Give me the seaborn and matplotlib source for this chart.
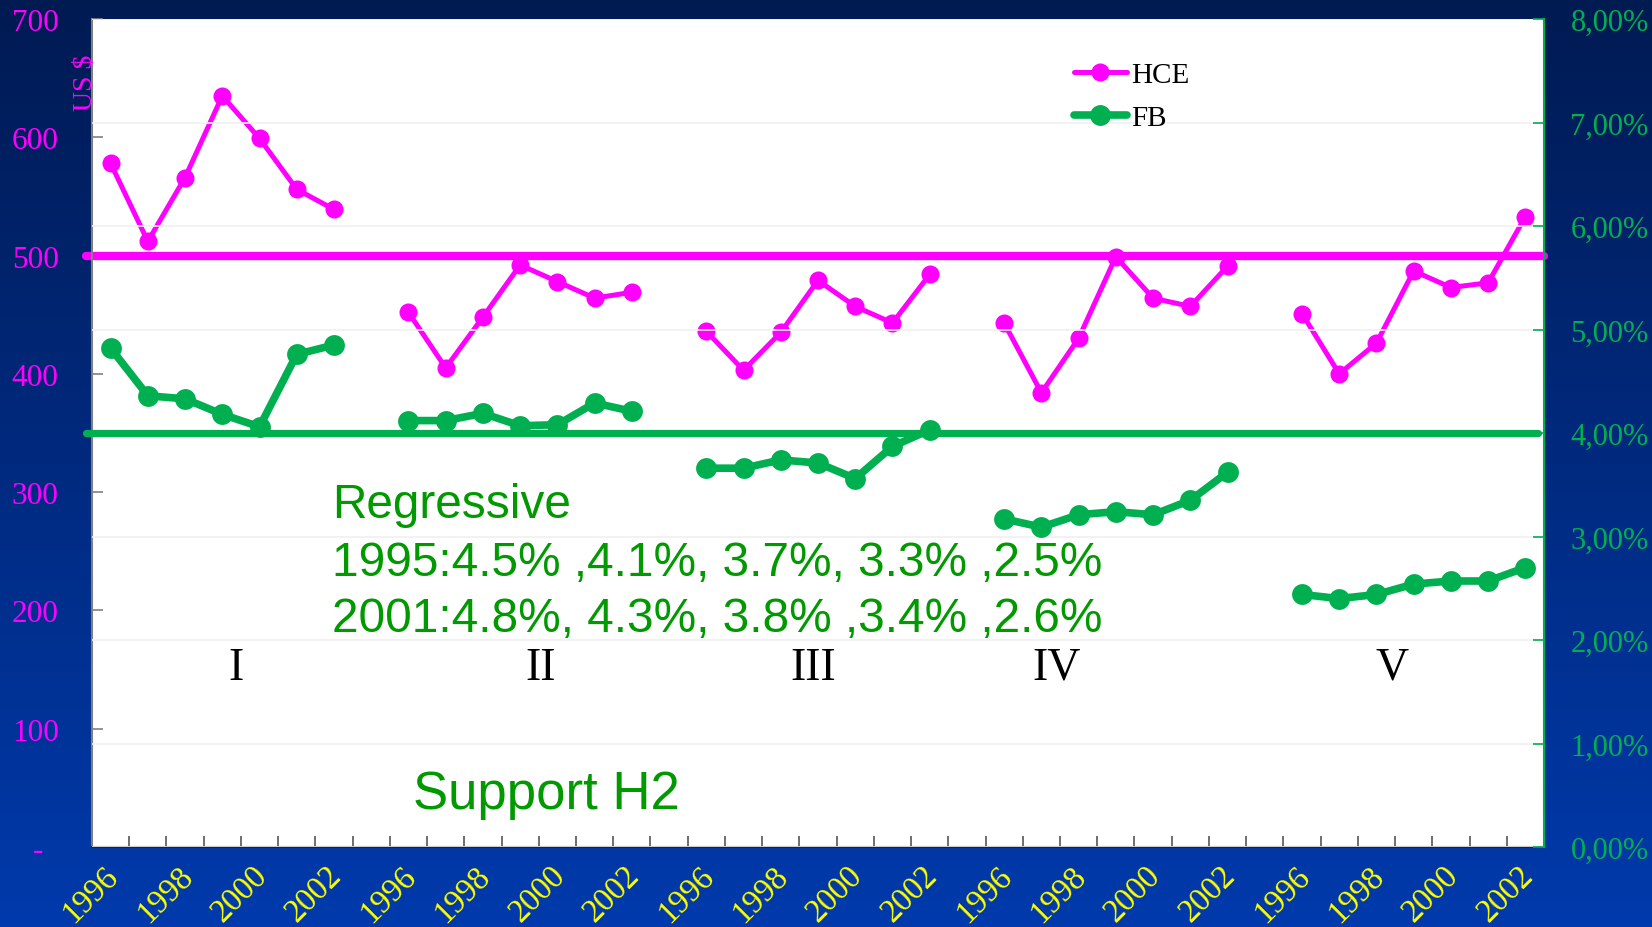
import numpy as np
import pandas as pd
import seaborn as sns
import matplotlib.pyplot as plt
import matplotlib.transforms as mtrans
from matplotlib.lines import Line2D
from matplotlib.ticker import FuncFormatter

# HCE in US$, FB in % - five groups of 1996..2002
hce_I = [578, 512, 566, 635, 599, 556, 539]
hce_II = [452, 405, 448, 492, 478, 464, 469]
hce_III = [436, 403, 435, 479, 457, 443, 484]
hce_IV = [443, 384, 430, 499, 464, 457, 491]
hce_V = [451, 400, 426, 487, 473, 477, 533]
fb_I = [4.82, 4.36, 4.33, 4.18, 4.06, 4.76, 4.85]
fb_II = [4.12, 4.12, 4.19, 4.07, 4.08, 4.29, 4.21]
fb_III = [3.66, 3.66, 3.74, 3.71, 3.56, 3.87, 4.03]
fb_IV = [3.17, 3.09, 3.21, 3.24, 3.21, 3.35, 3.62]
fb_V = [2.44, 2.40, 2.44, 2.54, 2.57, 2.57, 2.70]
groups = ['I', 'II', 'III', 'IV', 'V']
years = ['1996', '1998', '2000', '2002']
hce_ref = 500
fb_ref = 4.0

PINK = '#FF00FF'
GREEN = '#00B050'
TEXT_GREEN = '#009900'

sns.set_theme(style='white')
plt.rcParams['font.family'] = ['Liberation Serif', 'DejaVu Serif']
SANS = ['Liberation Sans', 'DejaVu Sans']

W, H = 1652, 928
fig = plt.figure(figsize=(W / 100, H / 100), dpi=100)


def fx(px):
    return px / W


def fy(py):
    return 1 - py / H


# blue gradient background
bg = fig.add_axes([0, 0, 1, 1], zorder=-10)
top = np.array([0x00, 0x1A, 0x52]) / 255
bottom = np.array([0x00, 0x3A, 0xAC]) / 255
t = np.linspace(0, 1, 256)[:, None, None]
bg.imshow(top + t * (bottom - top), aspect='auto', extent=[0, 1, 0, 1], origin='upper')
bg.axis('off')

rows = []
hce_all = [hce_I, hce_II, hce_III, hce_IV, hce_V]
fb_all = [fb_I, fb_II, fb_III, fb_IV, fb_V]
for g, (h, f) in enumerate(zip(hce_all, fb_all)):
    for j in range(7):
        rows.append(dict(pos=g * 8 + j, group=groups[g], HCE=h[j], FB=f[j]))
df = pd.DataFrame(rows)

ax = fig.add_axes([fx(92), fy(848), fx(1544) - fx(92), fy(20) - fy(848)])
ax.set_facecolor('white')
sns.lineplot(data=df, x='pos', y='HCE', units='group', estimator=None,
             color=PINK, lw=3.6, marker='o', markersize=13, markeredgewidth=0,
             ax=ax, legend=False, zorder=3)
ax.axhline(hce_ref, xmin=-0.004, xmax=1, color=PINK, lw=6, clip_on=False, zorder=2)

ax2 = ax.twinx()
sns.lineplot(data=df, x='pos', y='FB', units='group', estimator=None,
             color=GREEN, lw=5.5, marker='o', markersize=15, markeredgewidth=0,
             ax=ax2, legend=False, zorder=3)
ax2.axhline(fb_ref, xmin=-0.004, xmax=0.996, color=GREEN, lw=5.2, clip_on=False, zorder=2)

ax.set_xlim(-0.5, 38.5)
ax.set_ylim(0, 700)
ax2.set_ylim(0, 8)
ax.set_xlabel('')
ax.set_ylabel('')
ax2.set_ylabel('')

# left axis
ax.set_yticks(range(0, 701, 100))
ax.set_yticklabels(['-  '] + [str(v) for v in range(100, 701, 100)])
ax.tick_params(axis='y', direction='in', length=8, width=1.2, color='#808080',
               labelcolor=PINK, labelsize=22.5, pad=24)

# right axis
ax2.set_yticks(range(0, 9))
ax2.yaxis.set_major_formatter(FuncFormatter(lambda v, _: f'{v:.2f}%'.replace('.', ',')))
ax2.tick_params(axis='y', direction='in', length=8, width=1.2, color=GREEN,
                labelcolor=GREEN, labelsize=22, pad=19)
ax2.grid(axis='y', color='#F0F0F0', lw=1.2)

# x axis
ax.set_xticks(range(0, 39, 2))
ax.set_xticklabels(years * 5, rotation=45, ha='right', va='center',
                   rotation_mode='anchor', color='#FFFF00', fontsize=23.5)
ax.tick_params(axis='x', which='major', length=0, pad=17)
ax.set_xticks(np.arange(0.5, 38, 1), minor=True)
ax.tick_params(axis='x', which='minor', direction='in', length=8, width=1.2,
               color='#555555', bottom=True)

for side in ['top', 'right']:
    ax.spines[side].set_visible(False)
ax.spines['left'].set_color('#808080')
ax.spines['left'].set_linewidth(1.5)
ax.spines['bottom'].set_color('#222222')
ax.spines['bottom'].set_linewidth(1.5)
for side in ['top', 'left', 'bottom']:
    ax2.spines[side].set_visible(False)
ax2.spines['right'].set_color(GREEN)
ax2.spines['right'].set_linewidth(1.5)

fig.text(fx(85), fy(83), 'US $', rotation=90, ha='center', va='center',
         color=PINK, fontsize=20)

# legend
handles = [Line2D([], [], color=PINK, lw=3.6, marker='o', ms=12),
           Line2D([], [], color=GREEN, lw=5.5, marker='o', ms=14)]
fig.legend(handles, ['HCE', 'FB'], loc='upper left',
           bbox_to_anchor=(fx(1074), fy(63)), frameon=False, fontsize=21,
           labelcolor='black', handlelength=1.8, handletextpad=0.15,
           labelspacing=0.55, borderpad=0, borderaxespad=0)

# annotations
fig.text(fx(332), fy(518), 'Regressive', color=TEXT_GREEN, fontsize=34.4,
         family=SANS, va='baseline')
fig.text(fx(332), fy(576), '1995:4.5% ,4.1%, 3.7%, 3.3% ,2.5%', color=TEXT_GREEN,
         fontsize=34.4, family=SANS, va='baseline')
fig.text(fx(332), fy(632), '2001:4.8%, 4.3%, 3.8% ,3.4% ,2.6%', color=TEXT_GREEN,
         fontsize=34.4, family=SANS, va='baseline')
fig.text(fx(413), fy(809), 'Support H2', color=TEXT_GREEN, fontsize=38,
         family=SANS, va='baseline')

for name, xc in zip(groups, [236, 541, 813, 1057, 1392]):
    fig.text(fx(xc), fy(680), name, color='black', fontsize=33,
             ha='center', va='baseline')

shift = mtrans.ScaledTranslation(3 / 100, 0, fig.dpi_scale_trans)
for lbl in ax.get_xticklabels():
    lbl.set_transform(lbl.get_transform() + shift)

fig.savefig('out.png', dpi=100)
